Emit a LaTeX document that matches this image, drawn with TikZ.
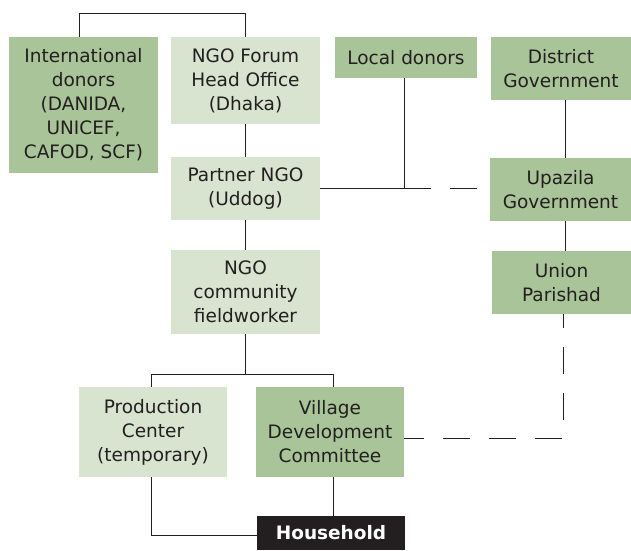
\documentclass[tikz,border=0pt]{standalone}
\usepackage{fontspec}
\setmainfont{DejaVu Sans}
\definecolor{darkgreen}{RGB}{168,196,152}
\definecolor{lightgreen}{RGB}{216,227,208}
\definecolor{inkgray}{RGB}{35,31,32}
\begin{document}
\begin{tikzpicture}[x=1pt, y=-1pt,
    box/.style={rectangle, inner sep=0pt, align=center, text=inkgray, font=\fontsize{18.5}{24}\selectfont},
    dark/.style={box, fill=darkgreen},
    light/.style={box, fill=lightgreen},
    link/.style={draw=inkgray, line width=1pt},
    dashlink/.style={link, dash pattern=on 27pt off 19pt}]
    \useasboundingbox (0,0) rectangle (631,550);

    \node[dark, minimum width=149pt, minimum height=136pt] (intl) at (83.5,105) {International\\donors\\(DANIDA,\\UNICEF,\\CAFOD, SCF)};
    \node[light, minimum width=149pt, minimum height=87pt] (forum) at (245.5,80.5) {NGO Forum\\Head Office\\(Dhaka)};
    \node[light, minimum width=149pt, minimum height=63pt] (partner) at (245.5,188.5) {Partner NGO\\(Uddog)};
    \node[light, minimum width=149pt, minimum height=84pt] (field) at (245.5,292) {NGO\\community\\fieldworker};

    \node[dark, minimum width=142pt, minimum height=41pt] (local) at (406,57.5) {Local donors};
    \node[dark, minimum width=140pt, minimum height=63pt] (district) at (561,68.5) {District\\Government};
    \node[dark, minimum width=141pt, minimum height=63pt] (upazila) at (560.5,189.5) {Upazila\\Government};
    \node[dark, minimum width=139pt, minimum height=63pt] (union) at (561.5,282.5) {Union\\Parishad};

    \node[light, minimum width=148pt, minimum height=90pt] (prod) at (153,432) {Production\\Center\\(temporary)};
    \node[dark, minimum width=148pt, minimum height=90pt] (vdc) at (330,432) {Village\\Development\\Committee};
    \node[box, fill=inkgray, text=white, font=\fontsize{18.5}{24}\selectfont\bfseries,
        minimum width=148pt, minimum height=34pt] (house) at (331,533) {Household};

    \draw[link] ([xshift=-4.5pt]intl.north) -- ([xshift=-4.5pt]intl.north |- 0,13) -| (forum.north);
    \draw[link] (forum) -- (partner);
    \draw[link] (partner) -- (field);
    \draw[link] (field.south) -- (field.south |- 0,374);
    \draw[link] ([xshift=-2pt]prod.north) -- ([xshift=-2pt]prod.north |- 0,374) -| ([xshift=3pt]vdc.north);
    \draw[link] ([xshift=-2pt]prod.south) |- ([yshift=-2pt]house.west);
    \draw[link] ([xshift=3pt]vdc.south) -- ([xshift=2pt]house.north);

    \coordinate (join) at ([xshift=-2pt]local.south |- partner.east);
    \draw[link] (partner.east) -- (join) -- ([xshift=-2pt]local.south);
    \draw[dashlink] (join) -- (join -| upazila.west);

    \draw[link] ([xshift=4pt]district.south) -- ([xshift=4.5pt]upazila.north);
    \draw[link] ([xshift=4.5pt]upazila.south) -- ([xshift=3.5pt]union.north);
    \draw[dashlink, dash phase=13pt] ([xshift=1.5pt]union.south) |- (vdc.east |- 0,438);
\end{tikzpicture}
\end{document}
